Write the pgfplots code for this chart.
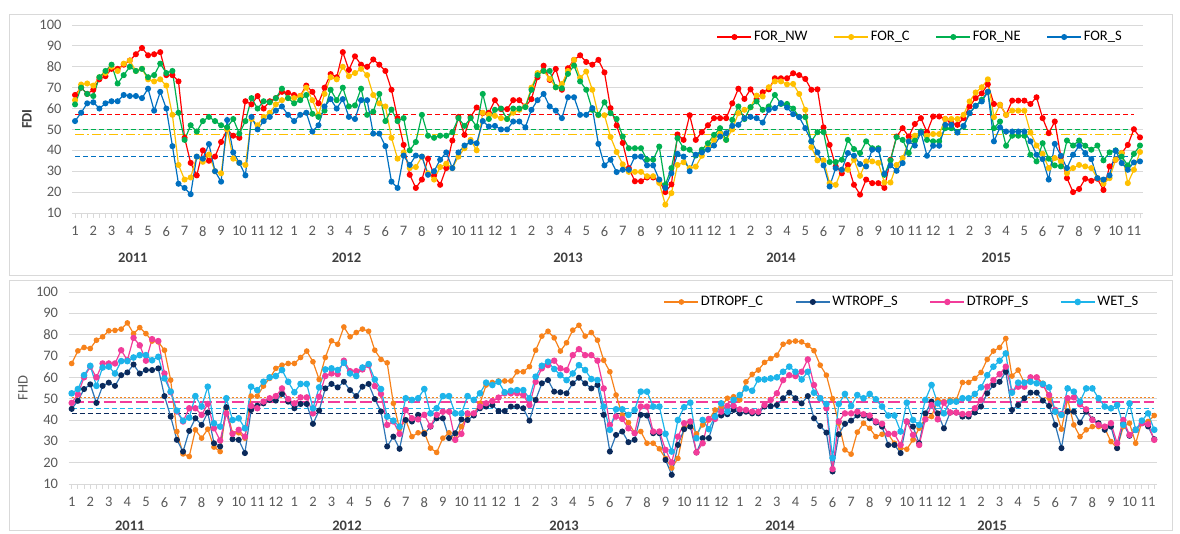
\documentclass[border=0pt]{standalone}
\usepackage{fontspec}
\setmainfont{Carlito}
\usepackage{pgfplots}
\usepackage{pgfplotstable}
\pgfplotsset{compat=1.18}
\definecolor{cNW}{HTML}{FF0000}
\definecolor{cC}{HTML}{FFC000}
\definecolor{cNE}{HTML}{00B050}
\definecolor{cS}{HTML}{0070C0}
\definecolor{cDC}{HTML}{F7821B}
\definecolor{cWSl}{HTML}{2E75B6}
\definecolor{cWSm}{HTML}{0B2A5B}
\definecolor{cDS}{HTML}{F23C9A}
\definecolor{cWET}{HTML}{1DB4EA}
\definecolor{gridc}{HTML}{D9D9D9}
\definecolor{tickc}{HTML}{595959}
\definecolor{yearc}{HTML}{404040}
\definecolor{framec}{HTML}{D9D9D9}

\pgfplotstableread{
i NW C NE S
0 66.5 64 62 54
1 70 71.5 70 58
2 67 72 67 62.5
3 69 71 66 63
4 74 75 75 60
5 75.5 77 78 62.5
6 79 80 81 63.5
7 79 78 72 63.5
8 81 81.5 76 66.5
9 83 83 80 66
10 86 78 78 66
11 89 79 79 65
12 85.5 74 75 69.5
13 86 73 76 59
14 87 74 81.5 68
15 76 71 77 60
16 76 57 78 42
17 73 33 58 24
18 46 26 45 22
19 34 27 52 19
20 28 37 49 37
21 40 34.5 54 36
22 35 38 56 43
23 37 30 54 30
24 44 29 52 25
25 50 50 51 54.5
26 47 36 55 39
27 46 34 48 34
28 63.5 33 54 28
29 62 55 65 56
30 66 52 60 50
31 60 56 63.5 54
32 63.5 58 63 56
33 65 62 65 59
34 68 64 69.5 61
35 67.5 65 65 57
36 66.5 65 62.5 54
37 66 66 64 57
38 71 70 66.5 58
39 68 64 57.5 49
40 62.5 57 56 52
41 70 67 59 61
42 76.5 75 69 64.5
43 75 74 64 60
44 87 80 70 64.5
45 78.5 75.5 61 56
46 85 77 61.5 55
47 81 79 69.5 64
48 80 76 57 64
49 83.5 66.5 58.5 48
50 81 62.5 67 48
51 78 61 54 42
52 69 46 59.5 25
53 55.4 36 54 22
54 42.6 39 55.4 37.5
55 28.3 31.5 40 33
56 22 32 44 37.5
57 26 37 57 37
58 36 29 47 28.3
59 28 26 46 30
60 23.5 32 47 35.5
61 31.5 33.6 47 39
62 44.7 31.5 48.7 31.5
63 56 37 55.4 39
64 47.4 41 51.7 42.3
65 56 45 55.4 44
66 60.5 40 51.4 43.4
67 57.8 58 67 54
68 58 57 55 51.4
69 64 56.5 59.4 51.7
70 59.7 55.4 60 50
71 59.7 55 55 50
72 64 58 60 53.8
73 64 59.4 60 53.8
74 61 61 60.7 51
75 64.5 70 69 59.4
76 75 77 76 64
77 80.5 78 78 67
78 73.7 74.2 78 61
79 79 70.2 70.2 59
80 69 71.8 69.7 55.4
81 79.3 78 76.6 65.4
82 83.3 83.3 80.6 65.4
83 85.5 74.7 73 57
84 82.3 77.7 69 57
85 81 69 59.4 60.2
86 83.3 56.8 57 43.1
87 77.3 56.8 63 32.8
88 60.2 46.4 57.8 35.5
89 51.9 39.2 55 29.6
90 43.5 33.3 46.6 30.7
91 31.5 29.7 41 30.7
92 25.2 29.7 41 37
93 25.2 29.7 41 37
94 27 27.6 35.5 32.8
95 27 27.6 35.5 32.8
96 25.5 24.4 41.8 26
97 20 14 23.5 22
98 23.7 19.5 31.5 29
99 47.6 33 45.8 38.3
100 45 34.3 41 37
101 56.8 31.5 40.3 30
102 45 32.2 37.5 37.9
103 48.7 37.4 40.3 39
104 52 42 43.4 40.3
105 55.4 45 47.4 42.3
106 55.4 48 50.6 46.6
107 55.4 45 45 48.2
108 62.5 50 54.6 51.7
109 69.5 57.8 61 52.2
110 64.6 59.4 55 55.4
111 69.2 60.6 60.7 56
112 64.6 66.2 63.4 55.4
113 67.8 65.8 59.4 53.3
114 69.2 70.2 61 59.4
115 74.5 73 66.5 60.2
116 74.5 73 62.2 62.6
117 74.5 71.6 62.2 60.5
118 76.9 71.8 60 57.3
119 76 67 56 55.9
120 74.2 59.4 55.9 50.6
121 69 41.5 44.3 44.3
122 69.2 35.2 48.7 39
123 51 35.2 48.7 32.8
124 42.6 24.3 34.4 22.7
125 32.3 23.5 34.4 31.5
126 29 30.7 35.5 30.7
127 33 30.7 45 38.7
128 23.5 35.5 40.6 37.4
129 18.8 27.8 38.7 33.4
130 26 34.7 44.3 32.3
131 24.3 34.7 41 40.3
132 24.3 34 41 40.3
133 22 24.6 28.3 28.8
134 35.5 24.6 35.2 32.8
135 46.6 33 46.3 30.2
136 50.6 36.3 45 33.9
137 46.6 44.3 38.7 44.3
138 52.6 47 44.6 42.3
139 55.4 49 49 48.5
140 48.7 47 45 37.4
141 56.2 47.8 44.3 42.2
142 56.2 47.8 44.3 42.2
143 55 55 50.6 52.2
144 53 55 50.6 52.2
145 52.2 55 48.7 48.5
146 55.4 57 51.4 51.7
147 61 63.4 57.8 57.8
148 65 67.7 61.3 61.3
149 67.3 70.2 64.2 63.4
150 71.6 74 68 68
151 62.2 55.9 50.6 44.3
152 61.8 61.8 53.8 51
153 57 57 42.2 49
154 63.8 59 47 49
155 63.8 59 47 49
156 63.8 59 47 49
157 62.2 48.5 37.9 44.3
158 65.4 42.3 34.7 37.9
159 55.4 38.3 43.4 35.8
160 48.2 31.5 36 26
161 53.8 36.3 32.8 43.1
162 37 34.7 32.3 37.4
163 26.7 29 44.7 31.5
164 20 31.5 42.3 37.9
165 21.5 33 44.7 42.2
166 26.4 32.3 42.2 38.7
167 25.4 31.5 40.3 35.8
168 26.4 26.7 42.3 26.7
169 21 24 35.2 26
170 32.3 26.7 39 28
171 35.5 35.5 40 39.8
172 38.7 38.7 37 33.9
173 42.6 24.3 32.8 30.7
174 50.1 30.7 38.3 34.2
175 46.2 39.2 42.3 34.7
}\topdata

\pgfplotstableread{
i DC WS DS WET
0 66.5 45.2 48 52.5
1 72.4 49 52 54.5
2 74 54.5 60 61
3 73.5 56.7 65 65.4
4 77.4 48 60 56
5 79 56 66.5 64.6
6 81.8 57.5 66.5 65
7 82 56 66.5 61.8
8 82.6 61 72.7 67.6
9 85.5 62.3 68 67.6
10 80.5 66 78.5 69.3
11 83.3 61.8 75 70.4
12 80.5 63.4 67.8 70.4
13 77 63.4 77.9 68
14 76.6 64.2 77 69.6
15 72.7 51.2 61.8 59.5
16 58.7 41.6 53 53.3
17 34.6 30.7 44 44.4
18 24.1 25.2 39.3 39.7
19 22.9 34.9 45.5 41.1
20 35.4 40.8 45.5 51.2
21 31.5 37.7 42.4 46.3
22 35.7 43.5 47.5 55.6
23 27.3 29.1 36.1 38.5
24 25.2 27.6 30.4 36.9
25 45.5 46 43.1 50.2
26 33.8 31 33.5 40
27 34 30.7 35.4 40.8
28 31.5 24.5 32.2 36.1
29 51.2 44.7 46.6 55.6
30 51.2 46.7 45.5 54
31 55.9 47.8 48.6 57.9
32 59.5 49.4 50.2 60
33 64.2 49.1 51.2 60.6
34 65.7 52.2 54.8 63.4
35 66.5 48.6 49.8 57.9
36 66.5 45.5 47.8 53
37 69.3 47.5 50.6 56.9
38 72.3 47.5 50.6 56.9
39 67.3 38.2 43.1 45.5
40 59 44.4 50.9 55.3
41 69.3 54.8 60.6 63.7
42 77.1 56.9 61.8 64.2
43 75.5 55.3 61.5 63.4
44 83.6 57.9 67.8 66.8
45 79 54 62.9 61.8
46 81 51.2 62.9 60.6
47 82.6 55.6 63.7 64.6
48 81.6 56.9 65.7 66.2
49 72.7 49.8 55.9 59
50 68.4 44 52.2 54.5
51 66.8 27.6 37.7 41.6
52 47.8 32.2 39.3 39.7
53 36 26.5 33.5 36.9
54 40 40 44.7 50.2
55 32.2 39.3 40.8 49.4
56 34 42.4 40.3 50.2
57 34.2 33.5 42.4 54.5
58 26.8 36.9 37.2 43.1
59 24.8 40.8 42.4 45.5
60 31.5 40.8 43.9 51.2
61 34 31.5 43.9 51.2
62 30.7 33.8 30.7 43.1
63 36.9 40.3 33.5 43.1
64 42.4 40 43.1 51.2
65 42.8 42.1 43.1 49.4
66 47.8 45.5 46.3 52.5
67 56.4 46.3 47.8 57.5
68 57.6 47 48.9 56.4
69 58.3 44.2 50.5 57.9
70 58.3 44.2 52.5 53
71 58.3 46.3 52.5 53.7
72 62.6 46.3 52.5 54
73 62.6 45.5 51.7 54
74 65 39.7 47 50.2
75 72.7 49.4 57.9 60.3
76 79.3 57.2 64.2 65.4
77 81.6 58.7 65.7 67.3
78 78.5 53.3 67.8 63.9
79 72.3 53 64.2 61
80 76.2 52.5 63.4 58.7
81 82.1 57.2 70.4 61.8
82 84.4 59.8 73.2 65.7
83 79.3 57.2 70.4 63.4
84 81 54.8 70.4 59.2
85 77.4 56.4 67.8 58.7
86 68 42.4 54.8 46.3
87 62.6 25.2 37.7 35.4
88 51.7 33 41.6 45
89 42.4 34.6 40.5 45
90 38.8 29.6 36.1 42.4
91 34 30.7 33.8 44.7
92 34.6 42.4 46.3 53.3
93 29.1 42.1 46.3 53.3
94 29.1 33.8 34.6 46.3
95 26.5 33.8 34.6 46.3
96 22 21.3 26 33.5
97 17.5 14.3 20.1 25.2
98 22 28.3 32.2 40
99 36.1 35.7 38.5 46
100 38.5 36.9 39.3 48.1
101 33.5 24.8 24.8 31.5
102 37.7 31.5 29.1 40
103 40 31.5 40.5 35.7
104 44.7 41.1 40.5 41.6
105 46.3 42.1 43.9 47.8
106 50.2 42.7 46.6 43.9
107 50.9 44.7 46.6 49.4
108 49.4 43.1 45 51.7
109 57.9 43.9 44.7 54.8
110 61.4 43.1 43.9 53.7
111 63.4 43.1 43.9 59
112 67 46.3 47 59
113 68.8 46.5 49.4 59.5
114 70.4 47 52.5 60
115 75.5 50.2 58.7 62.6
116 76.6 52.8 61 65
117 77 50.2 60.6 62.6
118 76.6 47.8 62.6 59
119 75 51.2 68.4 62.6
120 72.5 40.8 56.4 52.8
121 65.7 37.2 50.2 50.2
122 61 34.1 45.5 47.5
123 50 15.9 17 22.2
124 38.5 33.3 39.3 47.5
125 26 38.2 43.1 52.2
126 24 39.7 43.1 46.6
127 34.3 42.1 43.9 51.7
128 38.5 42.1 42.7 50.2
129 36.1 40.8 42.1 52.2
130 32.2 38.8 39.3 49.7
131 33.3 36.9 38.2 46.3
132 33.3 28.3 33.5 42.1
133 29.1 28.3 33.5 42.1
134 26.8 24.5 28.3 34.6
135 26.3 39.3 39.3 48.1
136 30.7 36.9 33 40
137 36.1 29.1 28.3 37.7
138 40.8 43.1 40.3 49.4
139 41.6 48.6 47 56.4
140 49.4 43.1 40.3 47.8
141 48.6 36.1 48.1 43.1
142 49.4 43.5 43.5 48.6
143 49.4 43.5 43.5 48.6
144 57.6 41.6 42.8 50.2
145 57.6 41.6 42.8 50.2
146 59.5 43.5 45.5 52.2
147 62.3 46.3 49.4 55.3
148 68.4 52.5 55.6 61
149 72.3 56.4 58.7 65
150 74 57.9 61.5 67.8
151 78.2 62.6 65 71.2
152 60.6 44.7 53.3 52.8
153 63.4 47 55.6 57.5
154 57.5 50.2 55.6 57.5
155 60 52.8 60 57.9
156 60 52.8 60 57.2
157 57.2 49.1 56.4 56.9
158 50.2 46.6 51.7 55.3
159 44.7 37.7 44.7 43.9
160 35.7 26.8 42.8 42.4
161 49.7 43.9 50.2 54.8
162 37.7 43.9 50.6 53.3
163 32.2 38.8 47.3 48.6
164 35.4 43.9 45 54.8
165 36.9 40.3 40 54.8
166 36.9 38.5 37.7 50.2
167 36.1 35.4 36.9 46.3
168 29.9 36.9 38.5 45.5
169 26.8 26.8 29.1 47
170 36.9 38.5 40 37.7
171 38.5 32.6 33 47.8
172 29.1 35.4 35.4 35.4
173 39.3 38.5 38.5 39.7
174 39.3 37 38 43.1
175 42.1 31 30.7 35.4
}\botdata

\pgfplotsset{
  panel/.style={
    scale only axis, anchor=south west,
    xmin=-0.5, xmax=175.5, ymin=10, ymax=100,
    ytick={10,20,...,100},
    xtick={0,3,...,174},
    xticklabels={1,2,3,4,5,6,7,8,9,10,11,12,1,2,3,4,5,6,7,8,9,10,11,12,1,2,3,4,5,6,7,8,9,10,11,12,1,2,3,4,5,6,7,8,9,10,11,12,1,2,3,4,5,6,7,8,9,10,11},
    minor xtick={0,1,...,175},
    ymajorgrids, grid style={draw=gridc, line width=0.9pt},
    axis line style={draw=none},
    tick align=outside, xtick pos=bottom, ytick pos=left,
    major tick length=5pt, minor tick length=5pt,
    every tick/.append style={gridc, line width=0.8pt},
    ytick style={draw=none},
    tick label style={font=\fontsize{14.5}{17}\selectfont, text=tickc},
    /pgf/number format/assume math mode=true,
    xticklabel style={yshift=-5pt},
    yticklabel style={xshift=-2pt},
    clip=false,
    legend columns=4,
    legend cell align=left,
    legend image code/.code={\draw[mark repeat=2,mark phase=2] plot coordinates {(0pt,0pt) (17pt,0pt) (34pt,0pt)};},
  },
  ser/.style={line width=1.2pt, mark=*, mark size=2.4pt, color=#1, mark options={solid}},
  refl/.style={line width=1.3pt, forget plot, mark=none, color=#1},
}

\begin{document}
\begin{tikzpicture}[x=1pt,y=1pt]
\useasboundingbox (0,0) rectangle (1180,534);
\draw[framec, line width=0.8pt] (9,259) rectangle (1172,520);
\draw[framec, line width=0.8pt] (9,4) rectangle (1172,254);

\begin{axis}[panel, at={(72pt,321pt)}, width=1071pt, height=188pt,
  legend style={at={(0.792,0.936)}, anchor=center, draw=none, fill=none,
    font=\fontsize{14.5}{17}\selectfont, text=black,
    /tikz/every even column/.append style={column sep=24pt}}]
\addplot[refl=cNW, dash pattern=on 5pt off 3pt] coordinates {(0,57) (174,57)};
\addplot[refl=cNE, dash pattern=on 5pt off 3pt] coordinates {(0,50) (174,50)};
\addplot[refl=cC, dash pattern=on 9pt off 3pt on 2pt off 3pt] coordinates {(0,47.5) (174,47.5)};
\addplot[refl=cS, dash pattern=on 5pt off 3pt] coordinates {(0,37) (174,37)};
\addplot[ser=cNW] table[x=i,y=NW]{\topdata}; \addlegendentry{FOR\_NW}
\addplot[ser=cC] table[x=i,y=C]{\topdata}; \addlegendentry{FOR\_C}
\addplot[ser=cNE] table[x=i,y=NE]{\topdata}; \addlegendentry{FOR\_NE}
\addplot[ser=cS] table[x=i,y=S]{\topdata}; \addlegendentry{FOR\_S}
\foreach \xx/\yy in {9.5/2011, 44.6/2012, 81/2013, 116/2014, 151.4/2015}{
  \edef\tmp{\noexpand\node[font=\noexpand\bfseries\noexpand\fontsize{14.5}{17}\noexpand\selectfont, text=yearc, yshift=-45pt] at (axis cs:\xx,10) {\yy};}\tmp
}
\node[rotate=90, font=\bfseries\fontsize{14.5}{17}\selectfont, text=yearc] at ([xshift=-45pt]rel axis cs:0,0.5) {FDI};
\end{axis}

\begin{axis}[panel, at={(68.6pt,50pt)}, width=1088.7pt, height=192pt,
  legend style={at={(0.7655,0.948)}, anchor=center, draw=none, fill=none,
    font=\fontsize{14.5}{17}\selectfont, text=black,
    /tikz/every even column/.append style={column sep=30pt}}]
\addplot[refl=cDC, line width=1.1pt, dash pattern=on 2.5pt off 1.5pt] coordinates {(0,50.5) (175,50.5)};
\addplot[refl=cDS, line width=1.6pt, dash pattern=on 12pt off 4pt] coordinates {(0,48.5) (175,48.5)};
\addplot[refl=cWET, dash pattern=on 5pt off 3pt] coordinates {(0,45.5) (175,45.5)};
\addplot[refl=cWSm, dash pattern=on 5pt off 3pt] coordinates {(0,43) (175,43)};
\addplot[ser=cDC, mark size=2.2pt] table[x=i,y=DC]{\botdata}; \addlegendentry{DTROPF\_C}
\addplot[ser=cWSl, mark options={solid, fill=cWSm, draw=cWSm}] table[x=i,y=WS]{\botdata}; \addlegendentry{WTROPF\_S}
\addplot[ser=cDS, mark size=2.6pt] table[x=i,y=DS]{\botdata}; \addlegendentry{DTROPF\_S}
\addplot[ser=cWET, mark size=2.7pt] table[x=i,y=WET]{\botdata}; \addlegendentry{WET\_S}
\foreach \xx/\yy in {9.4/2011, 44.5/2012, 79.6/2013, 114.5/2014, 148.8/2015}{
  \edef\tmp{\noexpand\node[font=\noexpand\bfseries\noexpand\fontsize{14.5}{17}\noexpand\selectfont, text=yearc, yshift=-42pt] at (axis cs:\xx,10) {\yy};}\tmp
}
\node[rotate=90, font=\fontsize{14.5}{17}\selectfont, text=tickc] at ([xshift=-45.6pt]rel axis cs:0,0.5) {FHD};
\end{axis}
\end{tikzpicture}
\end{document}
